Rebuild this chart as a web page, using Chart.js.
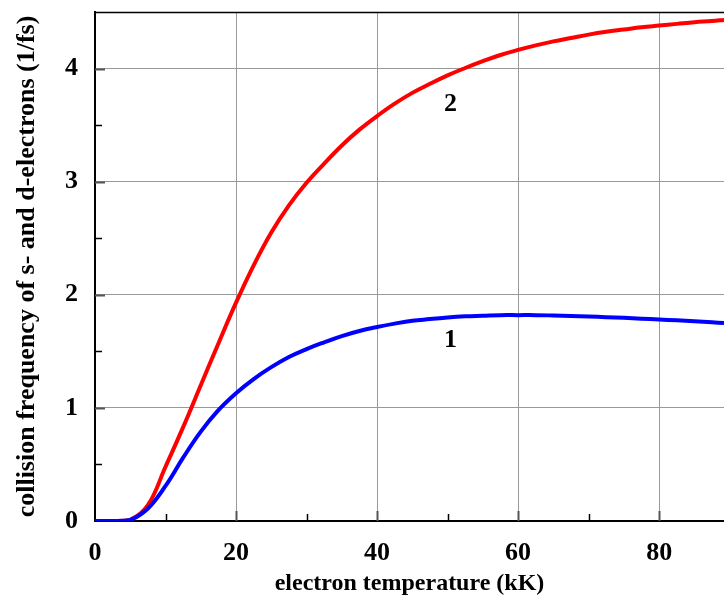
<!DOCTYPE html>
<html>
<head>
<meta charset="utf-8">
<script src="https://cdn.jsdelivr.net/npm/chart.js@4"></script>
<style>
html,body{margin:0;padding:0;background:#fff;}
#wrap{width:724px;height:599px;position:relative;}
</style>
</head>
<body>
<div id="wrap"><canvas id="c" width="724" height="599"></canvas></div>
<script>
// Data
const temps = [0, 2.5, 5, 7.5, 10, 12.5, 15, 17.5, 20, 22.5, 25, 27.5, 30, 32.5, 35, 37.5, 40, 42.5, 45, 47.5, 50, 52.5, 55, 57.5, 60, 62.5, 65, 67.5, 70, 72.5, 75, 77.5, 80, 82.5, 85, 87.5, 89.2];
const curve1 = [0, 0, 0.01, 0.11, 0.31, 0.56, 0.79, 0.98, 1.13, 1.255, 1.36, 1.45, 1.52, 1.58, 1.635, 1.68, 1.715, 1.745, 1.77, 1.785, 1.80, 1.81, 1.815, 1.82, 1.82, 1.82, 1.817, 1.813, 1.808, 1.802, 1.796, 1.789, 1.782, 1.774, 1.766, 1.757, 1.75];
const curve2 = [0, 0, 0.01, 0.14, 0.48, 0.83, 1.20, 1.57, 1.93, 2.26, 2.55, 2.79, 2.99, 3.16, 3.32, 3.46, 3.58, 3.69, 3.785, 3.865, 3.94, 4.005, 4.065, 4.12, 4.165, 4.205, 4.24, 4.27, 4.30, 4.325, 4.345, 4.365, 4.38, 4.395, 4.41, 4.42, 4.43];
const seriesNames = ["1", "2"];
const xTicks = [0, 20, 40, 60, 80];
const yTicks = [0, 1, 2, 3, 4];
const xMinor = [10, 30, 50, 70];
const yMinor = [0.5, 1.5, 2.5, 3.5];
const curveLabelX = [50.4, 50.4];
const curveLabelY = [1.60, 3.68];

const FONT = '"Liberation Serif", "Times New Roman", serif';

const decor = {
  id: 'decor',
  afterDraw(chart) {
    const ctx = chart.ctx;
    const a = chart.chartArea;
    const xs = chart.scales.x, ys = chart.scales.y;
    ctx.save();
    ctx.strokeStyle = '#000';
    ctx.lineWidth = 1.5;
    ctx.beginPath();
    ctx.moveTo(a.left, a.top + 0.5);
    ctx.lineTo(a.right, a.top + 0.5);
    ctx.stroke();
    ctx.strokeStyle = '#555';
    ctx.lineWidth = 2;
    xTicks.forEach(v => {
      if (v === 0) return;
      const px = Math.round(xs.getPixelForValue(v)) + 0.5;
      ctx.beginPath(); ctx.moveTo(px, a.bottom); ctx.lineTo(px, a.bottom - 10); ctx.stroke();
    });
    yTicks.forEach(v => {
      if (v === 0) return;
      const py = Math.round(ys.getPixelForValue(v)) + 0.5;
      ctx.beginPath(); ctx.moveTo(a.left, py); ctx.lineTo(a.left + 10, py); ctx.stroke();
    });
    ctx.strokeStyle = '#000';
    ctx.lineWidth = 1.5;
    xMinor.forEach(v => {
      const px = Math.round(xs.getPixelForValue(v)) + 0.5;
      ctx.beginPath(); ctx.moveTo(px, a.bottom); ctx.lineTo(px, a.bottom - 7); ctx.stroke();
    });
    yMinor.forEach(v => {
      const py = Math.round(ys.getPixelForValue(v)) + 0.5;
      ctx.beginPath(); ctx.moveTo(a.left, py); ctx.lineTo(a.left + 7, py); ctx.stroke();
    });
    ctx.fillStyle = '#000';
    ctx.font = 'bold 26px ' + FONT;
    ctx.textAlign = 'center';
    ctx.textBaseline = 'middle';
    seriesNames.forEach((n, i) => {
      ctx.fillText(n, xs.getPixelForValue(curveLabelX[i]), ys.getPixelForValue(curveLabelY[i]));
    });
    ctx.restore();
  }
};

new Chart(document.getElementById('c'), {
  type: 'line',
  data: {
    datasets: [
      { label: seriesNames[0], data: temps.map((t, i) => ({x: t, y: curve1[i]})), borderColor: '#0000ff', borderWidth: 4, pointRadius: 0, tension: 0.4, fill: false },
      { label: seriesNames[1], data: temps.map((t, i) => ({x: t, y: curve2[i]})), borderColor: '#ff0000', borderWidth: 4, pointRadius: 0, tension: 0.4, fill: false }
    ]
  },
  options: {
    responsive: false,
    animation: false,
    devicePixelRatio: 1,
    layout: { padding: { top: 12, right: 0, left: 0, bottom: 0 } },
    plugins: { legend: { display: false }, tooltip: { enabled: false } },
    scales: {
      x: {
        type: 'linear', min: 0, max: 89.2,
        afterBuildTicks: s => { s.ticks = xTicks.map(v => ({value: v})); },
        afterFit: s => { s.height = 78; s.paddingLeft = 0; s.paddingRight = 0; },
        grid: { color: '#999', lineWidth: 1, drawTicks: false },
        border: { color: '#000', width: 2 },
        ticks: { padding: 17, color: '#000', font: { family: FONT, weight: 'bold', size: 26 }, maxRotation: 0 },
        title: { display: true, text: 'electron temperature (kK)', color: '#000', font: { family: FONT, weight: 'bold', size: 24 }, padding: { top: 0, bottom: 1 } }
      },
      y: {
        type: 'linear', min: 0, max: 4.5,
        afterBuildTicks: s => { s.ticks = yTicks.map(v => ({value: v})); },
        afterFit: s => { s.width = 95; s.paddingTop = 0; s.paddingBottom = 0; },
        grid: { color: '#999', lineWidth: 1, drawTicks: false },
        border: { color: '#000', width: 2 },
        ticks: { padding: 17, color: '#000', font: { family: FONT, weight: 'bold', size: 26 } },
        title: { display: true, text: 'collision frequency of s- and d-electrons (1/fs)', color: '#000', font: { family: FONT, weight: 'bold', size: 26 }, padding: { top: 12, bottom: 0 } }
      }
    }
  },
  plugins: [decor]
});
</script>
</body>
</html>
